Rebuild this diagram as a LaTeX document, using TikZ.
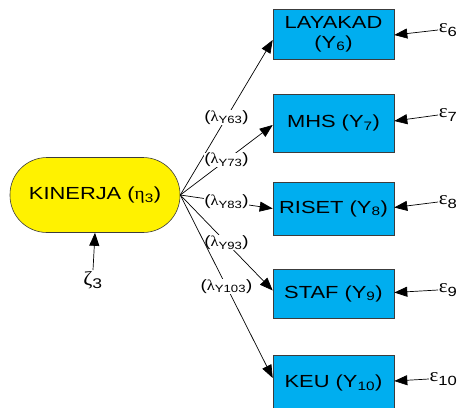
\documentclass[tikz,border=0pt]{standalone}
\usepackage{fontspec}
\setmainfont[FakeStretch=1.25]{Liberation Sans}
\newfontfamily\greekfont[FakeStretch=1.1]{Liberation Serif}
\usetikzlibrary{arrows.meta}
\newcommand\gr[1]{{\greekfont #1}}
\newcommand\sbs[1]{\textsubscript{#1}}
\definecolor{boxblue}{RGB}{0,174,239}
\definecolor{boxedge}{RGB}{60,60,60}
\tikzset{
  latentnode/.style={draw=boxedge, line width=0.6pt, fill=yellow, rounded corners=37pt,
    minimum width=170pt, minimum height=75pt, inner sep=0pt, font=\fontsize{17.5}{19}\selectfont},
  obsbox/.style={draw=boxedge, line width=0.6pt, fill=boxblue, minimum width=121pt,
    minimum height=52pt, inner sep=1pt, align=center, font=\fontsize{17.5}{20}\selectfont},
  errlabel/.style={inner sep=0.5pt, font=\fontsize{19}{21}\selectfont, anchor=east},
  loadlabel/.style={fill=white, inner sep=0.5pt, font=\fontsize{15}{17}\selectfont},
  conn/.style={draw=black, line width=0.7pt, -{Triangle[length=13pt,width=10pt]}}
}
\begin{document}
\begin{tikzpicture}[x=1pt,y=-1pt]
\useasboundingbox[fill=white] (0,0) rectangle (459,408);
\node[latentnode] (k) at (95,195) {KINERJA (\gr{η}\sbs{3})};
\node[obsbox, minimum height=50pt] (y6) at (333.5,34) {LAYAKAD\\(Y\sbs{6})};
\node[obsbox, minimum height=58pt] (y7) at (333.5,123) {MHS (Y\sbs{7})};
\node[obsbox, minimum height=53pt] (y8) at (333.5,208.5) {RISET (Y\sbs{8})};
\node[obsbox, minimum height=49pt] (y9) at (333.5,293.5) {STAF (Y\sbs{9})};
\node[obsbox, minimum height=56pt] (y10) at (333.5,383) {KEU (Y\sbs{10})};
% errors
\node[errlabel] (e6) at (458,30) {\gr{ε}\sbs{6}};
\node[errlabel] (e7) at (458,115) {\gr{ε}\sbs{7}};
\node[errlabel] (e8) at (458,202) {\gr{ε}\sbs{8}};
\node[errlabel] (e9) at (458,290) {\gr{ε}\sbs{9}};
\node[errlabel] (e10) at (458,379) {\gr{ε}\sbs{10}};
\node[font=\fontsize{20}{22}\selectfont, inner sep=1pt] (z) at (93,280) {\gr{ζ}\sbs{3}};
% loadings
\draw[conn] (k.east) -- node[loadlabel, pos=0.5] {(\gr{λ}\sbs{Y63})} ([yshift=-6pt]y6.west);
\draw[conn] (k.east) -- node[loadlabel, pos=0.5] {(\gr{λ}\sbs{Y73})} ([yshift=-2pt]y7.west);
\draw[conn] (k.east) -- node[loadlabel, pos=0.5] {(\gr{λ}\sbs{Y83})} (y8.west);
\draw[conn] (k.east) -- node[loadlabel, pos=0.5] {(\gr{λ}\sbs{Y93})} ([yshift=3pt]y9.west);
\draw[conn] (k.east) -- node[loadlabel, pos=0.5] {(\gr{λ}\sbs{Y103})} ([yshift=5pt]y10.west);
% error arrows
\draw[conn] (e6.west) -- ([yshift=-1pt]y6.east);
\draw[conn] (e7.west) -- ([yshift=2pt]y7.east);
\draw[conn] (e8.west) -- ([yshift=1pt]y8.east);
\draw[conn] (e9.west) -- ([yshift=1pt]y9.east);
\draw[conn] (e10.west) -- ([yshift=2pt]y10.east);
\draw[conn] (z.north) -- (k.south);
\end{tikzpicture}
\end{document}
